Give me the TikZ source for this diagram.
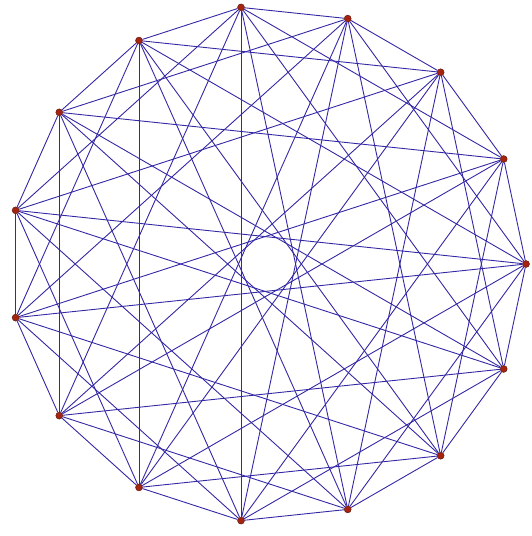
\documentclass[tikz,border=0pt]{standalone}
\definecolor{edgeblue}{RGB}{52,40,165}
\definecolor{dotred}{RGB}{165,35,15}
\definecolor{dotrim}{RGB}{90,20,10}
\begin{document}
\begin{tikzpicture}[x=1pt,y=1pt,
  vtx/.style={circle,fill=dotred,draw=dotrim,line width=0.4pt,inner sep=0pt,minimum size=7pt},
  edge/.style={draw=edgeblue,line width=0.9pt}]
\useasboundingbox (0,0) rectangle (531,536);
\foreach \i in {0,...,14} {
  \node[vtx] (n\i) at ({268+258*cos(96-24*\i)},{272+258*sin(96-24*\i)}) {};
}
\foreach \i in {0,...,14} {
  \foreach \k in {1,3,5,7} {
    \pgfmathtruncatemacro\j{mod(\i+\k,15)}
    \draw[edge] (n\i) -- (n\j);
  }
}
\end{tikzpicture}
\end{document}
